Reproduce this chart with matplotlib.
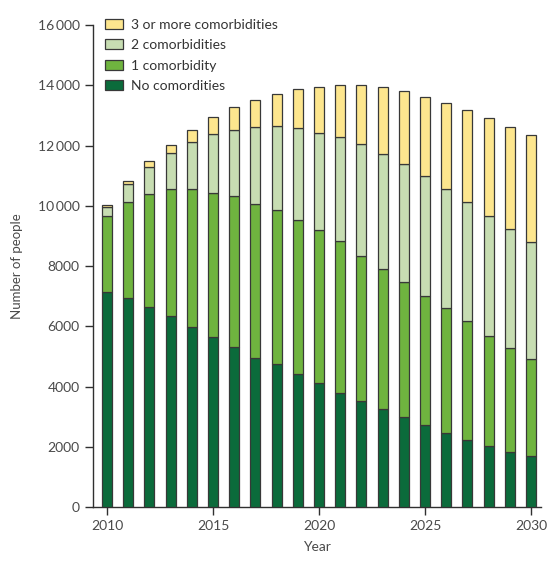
import matplotlib
matplotlib.use("Agg")
import matplotlib.pyplot as plt
from matplotlib.patches import Patch

years = list(range(2010, 2031))
no_comorbidities = [7150, 6930, 6630, 6340, 5990, 5640, 5300, 4960, 4750, 4410, 4110,
                    3780, 3530, 3250, 3000, 2720, 2470, 2230, 2040, 1840, 1700]
one_comorbidity = [2520, 3180, 3770, 4210, 4560, 4800, 5010, 5110, 5120, 5120, 5070,
                   5060, 4810, 4650, 4470, 4290, 4130, 3930, 3640, 3430, 3210]
two_comorbidities = [300, 620, 900, 1200, 1580, 1950, 2210, 2530, 2790, 3040, 3250,
                     3440, 3720, 3830, 3920, 3990, 3950, 3950, 3990, 3960, 3880]
three_plus = [50, 80, 170, 280, 370, 560, 750, 900, 1060, 1300, 1500,
              1720, 1940, 2200, 2430, 2600, 2850, 3080, 3260, 3370, 3560]

series_labels = ["No comordities", "1 comorbidity", "2 comorbidities", "3 or more comorbidities"]
series_colors = ["#0b6b3b", "#6fb43f", "#c7ddb2", "#fde68e"]
y_ticks = [0, 2000, 4000, 6000, 8000, 10000, 12000, 14000, 16000]
y_tick_labels = ["0", "2000", "4000", "6000", "8000", "10\u2009000", "12\u2009000", "14\u2009000", "16\u2009000"]
x_ticks = [2010, 2015, 2020, 2025, 2030]

plt.rcParams["font.family"] = ["Lato", "DejaVu Sans"]
text_color = "#4a4a4a"
edge = "#383838"

fig = plt.figure(figsize=(5.49, 5.86), dpi=100)
ax = fig.add_axes([0.1694, 0.1348, 0.816, 0.8225])

bottom = [0] * len(years)
series = [no_comorbidities, one_comorbidity, two_comorbidities, three_plus]
for vals, col in zip(series, series_colors):
    ax.bar(years, vals, width=0.47, bottom=bottom, color=col,
           edgecolor=edge, linewidth=0.9, zorder=3)
    bottom = [b + v for b, v in zip(bottom, vals)]

ax.set_xlim(2009.34, 2030.47)
ax.set_ylim(0, 16000)
ax.set_yticks(y_ticks)
ax.set_yticklabels(y_tick_labels)
ax.set_xticks(x_ticks)
ax.set_xticklabels([str(x) for x in x_ticks])

for s in ["top", "right"]:
    ax.spines[s].set_visible(False)
for s in ["left", "bottom"]:
    ax.spines[s].set_color("#303030")
    ax.spines[s].set_linewidth(1.0)

ax.tick_params(axis="both", direction="out", length=6, width=1.0, color="#303030",
               labelsize=10, labelcolor=text_color, pad=3.5)
ax.set_xlabel("Year", fontsize=10, color=text_color, labelpad=6)
ax.set_ylabel("Number of people", fontsize=9.5, color=text_color, labelpad=11)

handles = [Patch(facecolor=c, edgecolor=edge, linewidth=0.9) for c in series_colors]
leg = ax.legend(handles[::-1], series_labels[::-1], loc="upper left",
                bbox_to_anchor=(0.005, 1.033), frameon=False, fontsize=10,
                handlelength=1.3, handleheight=0.75, handletextpad=0.55,
                labelspacing=0.6, borderpad=0.2)
for t in leg.get_texts():
    t.set_color("#333333")

fig.savefig("out.png", dpi=100, facecolor="white")
